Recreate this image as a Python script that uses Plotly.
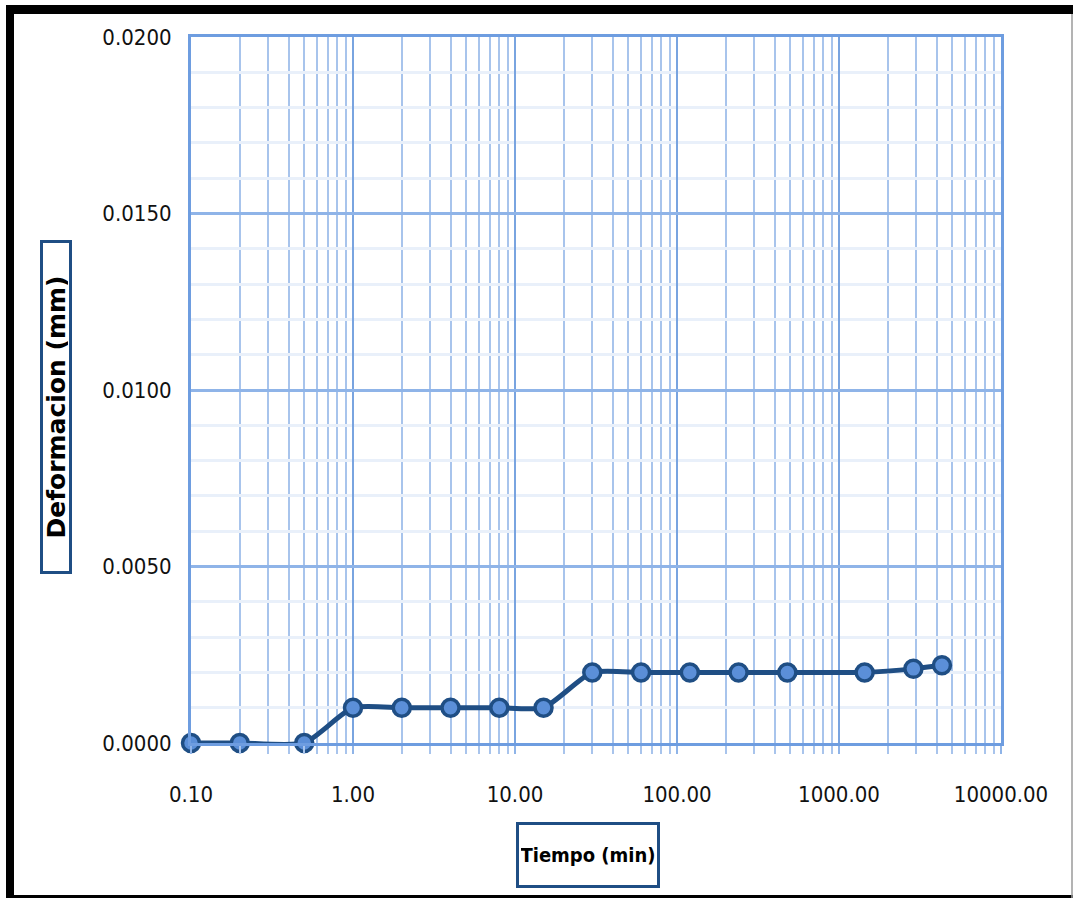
import plotly.graph_objects as go

# Consolidation reading: elapsed time (min) vs deformation (mm)
tiempo_min = [0.1, 0.2, 0.5, 1, 2, 4, 8, 15, 30, 60, 120, 240, 480, 1440, 2880, 4320]
deformacion_mm = [0.0000, 0.0000, 0.0000, 0.0010, 0.0010, 0.0010, 0.0010, 0.0010,
                  0.0020, 0.0020, 0.0020, 0.0020, 0.0020, 0.0020, 0.0021, 0.0022]

x_tick_vals = [0.1, 1, 10, 100, 1000, 10000]
x_tick_text = ["0.10", "1.00", "10.00", "100.00", "1000.00", "10000.00"]
y_tick_vals = [0.0, 0.005, 0.010, 0.015, 0.020]
y_tick_text = ["0.0000", "0.0050", "0.0100", "0.0150", "0.0200"]

W, H = 1073, 898
L, R, T, B = 191, 72, 37, 155
PW, PH = W - L - R, H - T - B

DARK = "#1f4e84"
MARK = "#5b8fd8"
GRID = "#8fb4e8"
GRID_MINOR = "#e9f0fa"
TICK_FONT = dict(family="DejaVu Sans Condensed, DejaVu Sans", size=22, color="#111111")


def px_x(p):
    return (p - L) / PW


def px_y(p):
    return (H - B - p) / PH


fig = go.Figure()
fig.add_trace(go.Scatter(
    x=tiempo_min, y=deformacion_mm, mode="lines+markers",
    line=dict(color=DARK, width=5, shape="spline", smoothing=0.6),
    marker=dict(symbol="circle", size=17, color=MARK, line=dict(color=DARK, width=3.5)),
    cliponaxis=False, showlegend=False,
))

fig.update_xaxes(
    type="log", range=[-1, 4],
    tickvals=x_tick_vals, ticktext=x_tick_text, tickfont=TICK_FONT,
    showgrid=True, gridcolor="#79a4e0", gridwidth=2,
    ticks="outside", ticklen=8, tickcolor=GRID, tickwidth=2,
    ticklabelstandoff=22,
    minor=dict(dtick="D1", showgrid=True, gridcolor="#a8c4ec", gridwidth=2,
               ticks="outside", ticklen=8, tickcolor="#a8c4ec", tickwidth=2),
    showline=True, linecolor="#6e9de0", linewidth=3, mirror=True,
    zeroline=False,
)
fig.update_yaxes(
    range=[0, 0.02],
    tickvals=y_tick_vals, ticktext=y_tick_text, tickfont=TICK_FONT,
    showgrid=True, gridcolor=GRID, gridwidth=3,
    minor=dict(dtick=0.001, showgrid=True, gridcolor=GRID_MINOR, gridwidth=3),
    showline=True, linecolor="#6e9de0", linewidth=3, mirror=True,
    ticks="outside", ticklen=12, tickcolor="rgba(0,0,0,0)",
    zeroline=False,
)

shapes = [
    # heavy black frame along the top, left and bottom edges
    dict(type="rect", xref="paper", yref="paper", x0=px_x(6), x1=px_x(W), y0=px_y(14), y1=px_y(5),
         fillcolor="black", line_width=0, layer="above"),
    dict(type="rect", xref="paper", yref="paper", x0=px_x(6), x1=px_x(14), y0=px_y(H), y1=px_y(5),
         fillcolor="black", line_width=0, layer="above"),
    dict(type="rect", xref="paper", yref="paper", x0=px_x(6), x1=px_x(W), y0=px_y(H), y1=px_y(895),
         fillcolor="black", line_width=0, layer="above"),
    dict(type="line", xref="paper", yref="paper", x0=px_x(1072), x1=px_x(1072), y0=px_y(H), y1=px_y(14),
         line=dict(color="#9a9a9a", width=1.5)),
]

annotations = [
    dict(text="<b>Deformacion (mm)</b>", textangle=-90,
         xref="paper", yref="paper", x=px_x(56), y=px_y(407), showarrow=False,
         xanchor="center", yanchor="middle",
         font=dict(family="DejaVu Sans", size=25, color="black"),
         bordercolor=DARK, borderwidth=3, borderpad=1, bgcolor="white",
         width=326, height=24),
    dict(text="<b>Tiempo (min)</b>",
         xref="paper", yref="paper", x=px_x(588), y=px_y(855), showarrow=False,
         xanchor="center", yanchor="middle",
         font=dict(family="DejaVu Sans Condensed, DejaVu Sans", size=20, color="black"),
         bordercolor=DARK, borderwidth=3, borderpad=2, bgcolor="white",
         width=134, height=56),
]

fig.update_layout(
    width=W, height=H,
    margin=dict(l=L, r=R, t=T, b=B),
    paper_bgcolor="white", plot_bgcolor="white",
    shapes=shapes, annotations=annotations,
)

fig.write_html("out.html")
